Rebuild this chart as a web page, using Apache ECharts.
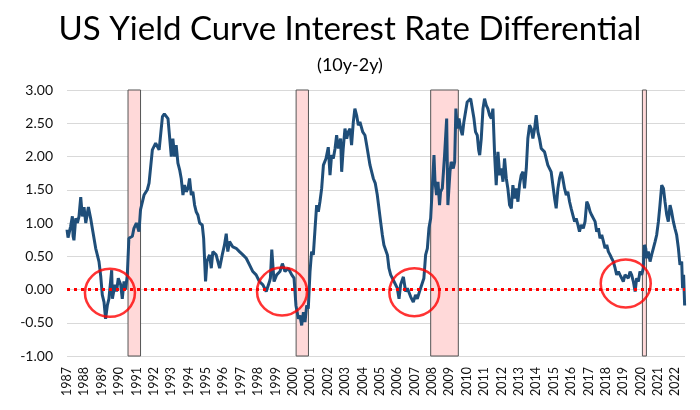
<!DOCTYPE html>
<html>
<head>
<meta charset="utf-8">
<script src="https://cdn.jsdelivr.net/npm/echarts@6/dist/echarts.min.js"></script>
<style>
html,body{margin:0;padding:0;background:#fff;}
#chart{width:700px;height:410px;}
</style>
</head>
<body>
<div id="chart"></div>
<script>
// Decimal year of each reading
var years = [
1987.00,1987.06,1987.12,1987.21,1987.31,1987.35,1987.40,1987.50,1987.60,1987.69,1987.79,1987.88,1987.98,
1988.08,1988.23,1988.36,1988.49,1988.65,1988.84,1988.94,1989.03,1989.13,1989.22,1989.32,1989.41,1989.57,
1989.61,1989.76,1989.85,1989.95,1990.09,1990.18,1990.28,1990.37,1990.47,1990.56,1990.76,1990.85,1990.99,
1991.14,1991.23,1991.43,1991.62,1991.72,1991.91,1992.10,1992.30,1992.49,1992.60,
1992.71,1992.81,1992.90,1993.00,1993.09,1993.19,1993.28,1993.38,1993.48,1993.57,1993.67,1993.76,1993.86,
1993.96,1994.05,1994.15,1994.24,1994.34,1994.43,1994.53,1994.63,1994.78,1994.86,1994.97,1995.05,1995.20,
1995.30,1995.39,1995.58,1995.78,1995.93,1996.06,1996.16,1996.25,1996.35,1996.54,1996.73,1996.92,1997.12,
1997.31,1997.50,1997.69,1997.88,1998.07,1998.27,1998.46,1998.65,
1998.70,1998.78,1998.91,1999.06,1999.25,1999.39,1999.54,1999.73,1999.93,2000.06,2000.17,2000.31,2000.40,
2000.50,2000.60,2000.69,2000.79,2000.88,2000.98,2001.07,2001.17,2001.27,2001.36,2001.46,2001.55,2001.65,
2001.75,2001.90,2002.03,2002.13,2002.22,2002.32,2002.42,2002.51,2002.61,2002.74,2002.80,2002.89,2002.99,
2003.09,2003.18,2003.28,2003.37,2003.47,2003.56,2003.66,2003.76,2003.85,2004.01,2004.14,2004.24,2004.43,
2004.62,
2004.73,2004.85,2005.04,2005.14,2005.23,2005.43,2005.52,2005.62,2005.81,2006.00,2006.10,2006.19,2006.35,
2006.48,2006.58,2006.77,2006.92,2007.05,2007.15,2007.34,2007.53,2007.63,2007.73,2007.82,2007.92,2008.01,
2008.11,2008.17,2008.26,2008.34,2008.43,2008.49,2008.59,2008.72,2008.84,2008.91,2009.03,2009.10,2009.22,
2009.30,2009.37,2009.45,2009.55,2009.64,2009.74,2009.83,2010.02,2010.22,2010.41,2010.50,2010.60,
2010.68,2010.74,2010.83,2010.93,2011.02,2011.12,2011.21,2011.31,2011.41,2011.50,2011.60,2011.69,2011.79,
2011.89,2011.98,2012.08,2012.17,2012.27,2012.36,2012.46,2012.56,2012.65,2012.75,2012.84,2012.94,2013.03,
2013.13,2013.23,2013.32,2013.42,2013.51,2013.61,2013.70,2013.80,2013.90,2013.99,2014.09,2014.18,2014.28,
2014.47,2014.66,2014.85,2014.95,2015.05,2015.14,2015.24,2015.33,2015.43,2015.52,2015.62,2015.72,2015.81,
2015.91,2016.00,2016.10,2016.20,2016.29,2016.39,2016.48,2016.58,
2016.70,2016.80,2016.90,2016.99,2017.09,2017.18,2017.28,2017.38,2017.47,2017.57,2017.66,2017.76,2017.86,
2017.95,2018.05,2018.14,2018.24,2018.33,2018.43,2018.53,2018.62,2018.72,2018.81,2018.91,2019.00,2019.10,
2019.29,2019.39,2019.48,2019.58,2019.68,2019.77,2019.87,2019.96,2020.06,2020.15,2020.21,2020.29,2020.35,
2020.44,2020.54,2020.63,2020.73,2020.83,2020.92,2021.02,2021.11,2021.21,2021.31,2021.40,2021.50,2021.59,
2021.69,2021.78,2021.88,2021.97,2022.07,2022.17,2022.26,2022.36,2022.41,2022.47,2022.53
];
// 10y-2y spread (percentage points)
var spread = [
0.90,0.78,0.80,0.95,1.10,0.80,0.74,1.07,1.00,1.10,1.39,1.10,1.24,
1.00,1.24,1.07,0.87,0.62,0.42,0.20,-0.08,-0.19,-0.44,-0.24,-0.14,0.29,
-0.14,0.07,-0.03,0.17,0.07,-0.14,0.12,0.00,0.22,0.77,0.80,0.92,1.00,
0.87,1.20,1.42,1.50,1.60,2.10,2.20,2.10,2.60,2.64,
2.62,2.57,2.30,2.00,2.27,2.00,2.17,1.90,1.80,1.67,1.42,1.57,1.47,
1.52,1.67,1.42,1.47,1.27,1.17,1.12,1.00,0.97,0.77,0.12,0.42,0.52,
0.32,0.57,0.52,0.32,0.52,0.67,0.84,0.57,0.72,0.64,0.62,0.57,0.52,
0.47,0.37,0.27,0.22,0.12,0.07,-0.03,0.12,
0.17,0.60,0.12,0.22,0.27,0.39,0.27,0.32,0.22,0.17,-0.24,-0.44,-0.39,
-0.54,-0.34,-0.49,-0.24,-0.29,0.27,0.57,0.52,0.92,1.27,1.17,1.32,1.52,
1.87,1.97,2.14,1.72,2.02,1.97,2.12,2.32,2.12,2.27,1.77,2.12,2.42,
2.27,2.37,2.42,2.17,2.52,2.72,2.62,2.47,2.52,2.37,2.32,2.17,1.87,
1.67,
1.60,1.42,1.02,0.82,0.67,0.52,0.32,0.22,0.12,0.02,-0.14,0.07,0.19,
-0.03,0.02,-0.11,-0.19,-0.08,-0.14,0.02,0.17,0.52,0.62,0.92,1.07,1.52,
2.02,1.62,1.42,1.62,1.27,1.47,1.52,2.02,2.57,1.27,1.77,1.92,1.82,
1.92,2.72,2.42,2.57,2.42,2.32,2.52,2.82,2.87,2.57,2.37,2.32,
2.10,2.02,2.27,2.72,2.87,2.77,2.72,2.62,2.57,2.72,2.02,1.57,2.07,
1.72,1.82,1.62,1.97,1.67,1.52,1.27,1.22,1.57,1.37,1.52,1.32,1.57,
1.72,1.77,1.52,1.82,2.27,2.47,2.42,2.27,2.42,2.62,2.37,2.27,2.12,
2.07,1.87,1.77,1.57,1.37,1.22,1.52,1.67,1.77,1.67,1.52,1.42,1.47,
1.32,1.22,1.12,1.02,1.07,0.97,0.87,0.97,
0.92,1.02,1.32,1.27,1.17,1.12,1.07,1.02,0.87,0.92,0.77,0.82,0.72,
0.62,0.67,0.57,0.52,0.47,0.42,0.32,0.22,0.27,0.22,0.17,0.12,0.22,
0.17,0.27,0.22,0.12,-0.03,0.17,0.12,0.27,0.22,0.32,0.67,0.62,0.47,
0.57,0.42,0.52,0.62,0.72,0.82,1.02,1.27,1.57,1.52,1.32,1.12,1.02,
1.27,1.17,1.02,0.92,0.82,0.62,0.37,0.42,0.02,0.22,-0.24
];
// Recession bands [start, end] in decimal years
var recessionStart = [1990.51, 2000.18, 2007.92, 2020.10];
var recessionEnd   = [1991.23, 2000.89, 2009.51, 2020.33];
// Circled inversion periods: centre year and value
var circleYears  = [1989.47, 1999.37, 2006.98, 2019.14];
var circleValues = [-0.05, -0.03, -0.04, 0.09];
// Axis settings
var yTicks = [-1, -0.5, 0, 0.5, 1, 1.5, 2, 2.5, 3];
var xFirstYear = 1987, xLastYear = 2022;

var lineData = years.map(function (y, i) { return [y, spread[i]]; });
var bands = recessionStart.map(function (s, i) { return [{ xAxis: s }, { xAxis: recessionEnd[i] }]; });
var circles = circleYears.map(function (y, i) { return [y, circleValues[i]]; });

var chart = echarts.init(document.getElementById('chart'), null, { renderer: 'canvas' });
chart.setOption({
  animation: false,
  backgroundColor: '#ffffff',
  title: [
    { text: 'US Yield Curve Interest Rate Differential', left: 'center', top: 8,
      textStyle: { fontFamily: 'Lato, "Open Sans", sans-serif', fontSize: 33, fontWeight: 'normal', color: '#000' } },
    { text: '(10y-2y)', left: 'center', top: 51,
      textStyle: { fontFamily: 'Lato, "Open Sans", sans-serif', fontSize: 18, fontWeight: 'normal', color: '#000' } }
  ],
  grid: { left: 67, right: 15, top: 90, bottom: 54, containLabel: false },
  xAxis: {
    type: 'value', min: xFirstYear, max: 2022.55, interval: 1,
    axisLine: { show: false }, axisTick: { show: false }, splitLine: { show: false },
    axisLabel: {
      rotate: 90, margin: 11, fontSize: 12.5, color: '#111',
      fontFamily: 'Lato, "Liberation Sans", Arial, sans-serif',
      formatter: function (v) { return (Math.abs(v - Math.round(v)) < 1e-6 && v <= xLastYear) ? String(Math.round(v)) : ''; }
    }
  },
  yAxis: {
    type: 'value', min: yTicks[0], max: yTicks[yTicks.length - 1], interval: 0.5,
    axisLine: { show: false }, axisTick: { show: false },
    splitLine: { lineStyle: { color: '#d9d9d9', width: 1 } },
    axisLabel: { margin: 14, fontSize: 14, color: '#111', fontFamily: 'Lato, "Liberation Sans", Arial, sans-serif',
      formatter: function (v) { return v.toFixed(2); } }
  },
  series: [
    { type: 'line', data: [], z: 1, silent: true,
      markArea: { silent: true, itemStyle: { color: '#FFD9D9', borderColor: '#555555', borderWidth: 1 }, data: bands } },
    { type: 'line', data: lineData, z: 3, symbol: 'none', silent: true,
      lineStyle: { color: '#1F4E79', width: 3 } },
    { type: 'line', data: [], z: 4, silent: true,
      markLine: { silent: true, symbol: ['none', 'none'], label: { show: false },
        lineStyle: { color: '#FF0000', width: 3, type: [3, 4] }, data: [{ yAxis: 0 }] } },
    { type: 'scatter', data: circles, z: 5, silent: true, symbol: 'circle', symbolSize: [50, 48],
      itemStyle: { color: 'rgba(0,0,0,0)', borderColor: '#FF0000', borderWidth: 2.5 } }
  ]
});
</script>
</body>
</html>
